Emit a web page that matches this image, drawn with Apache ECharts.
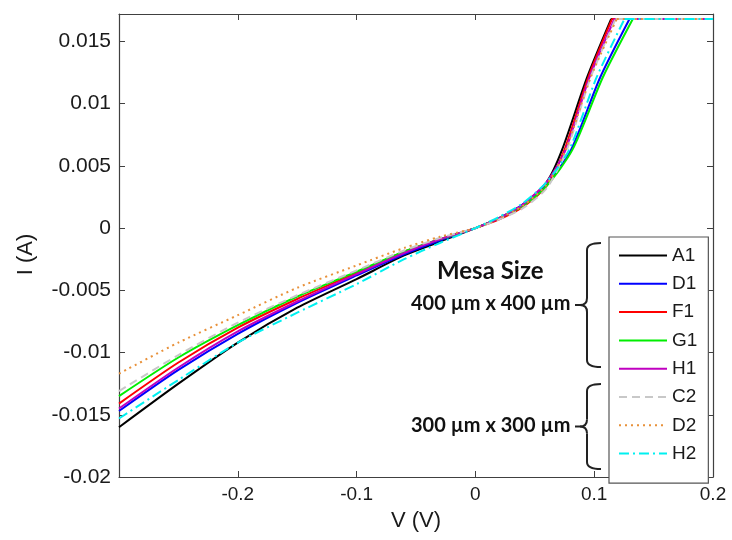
<!DOCTYPE html>
<html>
<head>
<meta charset="utf-8">
<script src="https://cdn.jsdelivr.net/npm/echarts@6/dist/echarts.min.js"></script>
<style>html,body{margin:0;padding:0;background:#fff;}#c{width:732px;height:540px;}</style>
</head>
<body>
<div id="c"></div>
<script>
// Shared voltage grid (V) for the low-bias region
const vLow = [-0.3, -0.25, -0.2, -0.15, -0.1, -0.06, -0.03, 0, 0.02, 0.04, 0.06];
// Current (A) on vLow for each device
const iA1 = [-0.0160, -0.0125, -0.0092, -0.0064, -0.0041, -0.0022, -0.0011, 0.0000, 0.0008, 0.0019, 0.0037];
const iD1 = [-0.0147, -0.0114, -0.0085, -0.0060, -0.0038, -0.0021, -0.0010, 0.0000, 0.0008, 0.0019, 0.0035];
const iF1 = [-0.0141, -0.0108, -0.0080, -0.0057, -0.0036, -0.0019, -0.0009, 0.0000, 0.0007, 0.0017, 0.0034];
const iG1 = [-0.0135, -0.0104, -0.0078, -0.0055, -0.0035, -0.0019, -0.0009, 0.0000, 0.0008, 0.0018, 0.0034];
const iH1 = [-0.0145, -0.0112, -0.0083, -0.0059, -0.0037, -0.0020, -0.0009, 0.0000, 0.0008, 0.0019, 0.0037];
const iC2 = [-0.0131, -0.0102, -0.0076, -0.0054, -0.0034, -0.0018, -0.0008, 0.0000, 0.0007, 0.0016, 0.0032];
const iD2 = [-0.0117, -0.0092, -0.0070, -0.0048, -0.0030, -0.0016, -0.0007, 0.0000, 0.0008, 0.0018, 0.0035];
const iH2 = [-0.0153, -0.0122, -0.0092, -0.0068, -0.0045, -0.0025, -0.0012, 0.0000, 0.0009, 0.0020, 0.0037];
// High-bias knee currents (A), shared, and the voltage where each device reaches them
const iKnee = [0.0063, 0.0121, 0.0168];
const vKneeA1 = [0.073, 0.094, 0.1143];
const vKneeD1 = [0.0806, 0.105, 0.1297];
const vKneeF1 = [0.075, 0.095, 0.1150];
const vKneeG1 = [0.0817, 0.1072, 0.1325];
const vKneeH1 = [0.076, 0.096, 0.1170];
const vKneeC2 = [0.077, 0.097, 0.1180];
const vKneeD2 = [0.076, 0.097, 0.1190];
const vKneeH2 = [0.079, 0.102, 0.1255];
const vEnd = 0.2;            // sweep end
const iCompliance = 0.0168;  // compliance current (flat part)

const names = ['A1', 'D1', 'F1', 'G1', 'H1', 'C2', 'D2', 'H2'];
const colors = ['#000000', '#0000ff', '#ff0000', '#00ee00', '#c000c0', '#c8c8c8', '#e8913a', '#00f0f0'];
const dashes = ['solid', 'solid', 'solid', 'solid', 'solid', [8, 5], [2, 4], [10, 4, 2, 4]];
const lows = [iA1, iD1, iF1, iG1, iH1, iC2, iD2, iH2];
const knees = [vKneeA1, vKneeD1, vKneeF1, vKneeG1, vKneeH1, vKneeC2, vKneeD2, vKneeH2];

function buildCurve(low, knee) {
  const d = vLow.map((v, k) => [v, low[k]]);
  knee.forEach((v, k) => d.push([v, iKnee[k]]));
  return d;
}

const series = [];
names.forEach((n, k) => {
  const ls = { color: colors[k], width: 2, type: dashes[k] };
  series.push({
    name: n, type: 'line', symbol: 'none', smooth: 0.25,
    data: buildCurve(lows[k], knees[k]),
    lineStyle: ls, itemStyle: { color: colors[k] }, z: 2 + k
  });
  // compliance-limited flat part
  series.push({
    name: n, type: 'line', symbol: 'none', smooth: false,
    data: [[knees[k][2], iCompliance], [vEnd, iCompliance]],
    lineStyle: ls, itemStyle: { color: colors[k] }, z: 2 + k
  });
});

// curly brace drawn from primitive shapes
function brace(top, bottom, spineX, endX, tipX) {
  const mid = (top + bottom) / 2, r = 7;
  const st = { stroke: '#222', lineWidth: 2, fill: 'none' };
  return {
    type: 'group', children: [
      { type: 'bezierCurve', shape: { x1: endX, y1: top, x2: spineX, y2: top + r, cpx1: spineX, cpy1: top }, style: st },
      { type: 'line', shape: { x1: spineX, y1: top + r, x2: spineX, y2: mid - r }, style: st },
      { type: 'bezierCurve', shape: { x1: spineX, y1: mid - r, x2: spineX - r, y2: mid, cpx1: spineX, cpy1: mid }, style: st },
      { type: 'line', shape: { x1: spineX - r, y1: mid, x2: tipX, y2: mid }, style: st },
      { type: 'bezierCurve', shape: { x1: spineX - r, y1: mid, x2: spineX, y2: mid + r, cpx1: spineX, cpy1: mid }, style: st },
      { type: 'line', shape: { x1: spineX, y1: mid + r, x2: spineX, y2: bottom - r }, style: st },
      { type: 'bezierCurve', shape: { x1: spineX, y1: bottom - r, x2: endX, y2: bottom, cpx1: spineX, cpy1: bottom }, style: st }
    ]
  };
}

const axisCol = '#404040';
const chart = echarts.init(document.getElementById('c'), null, { renderer: 'canvas' });
chart.setOption({
  backgroundColor: '#ffffff',
  animation: false,
  grid: { left: 119, right: 19, top: 14, bottom: 63, containLabel: false },
  xAxis: [{
    type: 'value', min: -0.3, max: 0.2, interval: 0.1,
    axisLine: { onZero: false, lineStyle: { color: axisCol, width: 1.2 } },
    axisTick: { inside: true, length: 6, lineStyle: { color: axisCol } },
    axisLabel: { showMinLabel: false, margin: 8, fontFamily: 'Liberation Sans', fontSize: 19, color: '#1a1a1a' },
    splitLine: { show: false },
    name: 'V (V)', nameLocation: 'middle', nameGap: 33,
    nameTextStyle: { fontFamily: 'Liberation Sans', fontSize: 22, color: '#1a1a1a' }
  }, {
    type: 'value', min: -0.3, max: 0.2, interval: 0.1, position: 'top',
    axisLine: { onZero: false, lineStyle: { color: axisCol, width: 1.2 } },
    axisTick: { inside: true, length: 6, lineStyle: { color: axisCol } },
    axisLabel: { show: false }, splitLine: { show: false }
  }],
  yAxis: [{
    type: 'value', min: -0.02, max: 0.0172, interval: 0.005,
    axisLine: { show: true, onZero: false, lineStyle: { color: axisCol, width: 1.2 } },
    axisTick: { show: true, inside: true, length: 6, lineStyle: { color: axisCol } },
    axisLabel: { showMaxLabel: false, margin: 8, fontFamily: 'Liberation Sans', fontSize: 21, color: '#1a1a1a' },
    splitLine: { show: false },
    name: 'I (A)', nameLocation: 'middle', nameGap: 82, nameRotate: 90,
    nameTextStyle: { fontFamily: 'Liberation Sans', fontSize: 22, color: '#1a1a1a', padding: [0, 18, 0, 0] }
  }, {
    type: 'value', min: -0.02, max: 0.0172, interval: 0.005, position: 'right',
    axisLine: { show: true, onZero: false, lineStyle: { color: axisCol, width: 1.2 } },
    axisTick: { show: true, inside: true, length: 6, lineStyle: { color: axisCol } },
    axisLabel: { show: false }, splitLine: { show: false }
  }],
  legend: {
    data: names, orient: 'vertical', left: 609, top: 237,
    itemWidth: 48, itemHeight: 14, itemGap: 9.3,
    padding: [9, 11, 20, 9],
    itemStyle: { opacity: 0 },
    backgroundColor: '#ffffff', borderColor: '#555555', borderWidth: 1.2,
    textStyle: { fontFamily: 'Liberation Sans', fontSize: 19, color: '#1a1a1a' }
  },
  graphic: [
    { type: 'text', left: 437, top: 259, style: { text: 'Mesa Size', font: 'bold 24px Lato', fill: '#111' } },
    { type: 'text', left: 411, top: 294, style: { text: '400 µm x 400 µm', font: 'bold 20px Lato', fill: '#111' } },
    { type: 'text', left: 411, top: 416, style: { text: '300 µm x 300 µm', font: 'bold 20px Lato', fill: '#111' } },
    brace(243, 367, 587, 601, 575),
    brace(384, 469, 587, 601, 575)
  ],
  series: series
});
</script>
</body>
</html>
